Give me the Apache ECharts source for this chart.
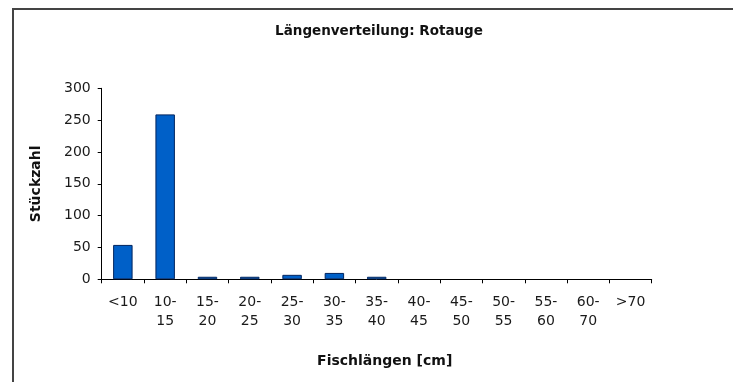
<!DOCTYPE html>
<html>
<head>
<meta charset="utf-8">
<script src="https://cdn.jsdelivr.net/npm/echarts@6/dist/echarts.min.js"></script>
<style>html,body{margin:0;padding:0;background:#fff;}#c{width:733px;height:382px;}</style>
</head>
<body>
<div id="c"></div>
<script>
const categories = ['<10\n', '10-\n15', '15-\n20', '20-\n25', '25-\n30', '30-\n35', '35-\n40', '40-\n45', '45-\n50', '50-\n55', '55-\n60', '60-\n70', '>70\n'];
const counts = [54, 259, 4, 4, 7, 10, 4, 0, 0, 0, 0, 0, 0];
const yTicks = { min: 0, max: 300, interval: 50 };
const titleText = 'Längenverteilung: Rotauge';
const xTitle = 'Fischlängen [cm]';
const yTitle = 'Stückzahl';

const font = 'DejaVu Sans';
const chart = echarts.init(document.getElementById('c'));
chart.setOption({
  animation: false,
  backgroundColor: '#fff',
  title: {
    text: titleText,
    left: 374, top: 19, textAlign: 'center',
    textStyle: { fontFamily: font, fontSize: 13.5, fontWeight: 'bold', color: '#111' }
  },
  graphic: [{
    type: 'rect', shape: { x: 13, y: 9, width: 900, height: 600 },
    style: { fill: 'none', stroke: '#444', lineWidth: 2 }, silent: true, z: -1
  }],
  grid: { left: 101.7, right: 81.3, top: 88.3, bottom: 102.7 },
  xAxis: {
    type: 'category', data: categories,
    name: xTitle, nameLocation: 'middle', nameGap: 75,
    nameTextStyle: { fontFamily: font, fontSize: 14, fontWeight: 'bold', color: '#111', padding: [0, 0, 0, 16] },
    axisLine: { lineStyle: { color: '#000', width: 1 } },
    axisTick: { show: true, length: 4, lineStyle: { color: '#000' } },
    axisLabel: { fontFamily: font, fontSize: 14, color: '#1a1a1a', lineHeight: 19, margin: 14, interval: 0, verticalAlign: 'top' }
  },
  yAxis: {
    type: 'value', min: yTicks.min, max: yTicks.max, interval: yTicks.interval,
    name: yTitle, nameLocation: 'middle', nameGap: 58,
    nameTextStyle: { fontFamily: font, fontSize: 14, fontWeight: 'bold', color: '#111' },
    axisLine: { show: true, lineStyle: { color: '#000', width: 1 } },
    axisTick: { show: true, length: 4, lineStyle: { color: '#000' } },
    splitLine: { show: false },
    axisLabel: { fontFamily: font, fontSize: 14, color: '#1a1a1a', margin: 11 }
  },
  series: [{
    type: 'bar', data: counts.map(v => (v === 0 ? '-' : v)), barWidth: '46%', z: 1,
    itemStyle: { color: '#0060c8', borderColor: '#00245e', borderWidth: 1 }
  }]
});
</script>
</body>
</html>
